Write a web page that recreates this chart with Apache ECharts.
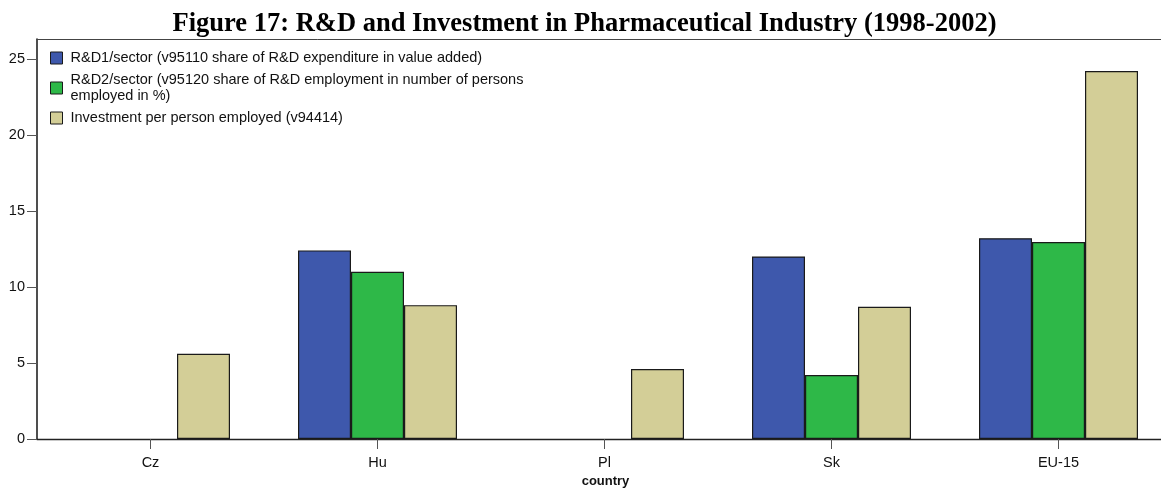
<!DOCTYPE html>
<html>
<head>
<meta charset="utf-8">
<script src="https://cdn.jsdelivr.net/npm/echarts@6/dist/echarts.min.js"></script>
<style>
  html, body { margin: 0; padding: 0; background: #ffffff; }
  #chart { width: 1161px; height: 488px; }
</style>
</head>
<body>
<div id="chart"></div>
<script>
const titleText = 'Figure 17: R&D and Investment in Pharmaceutical Industry (1998-2002)';
const categories = ['Cz', 'Hu', 'Pl', 'Sk', 'EU-15'];
const seriesNames = [
  'R&D1/sector (v95110 share of R&D expenditure in value added)',
  'R&D2/sector (v95120 share of R&D employment in number of persons employed in %)',
  'Investment per person employed (v94414)'
];
const legendLabels = [
  'R&D1/sector (v95110 share of R&D expenditure in value added)',
  'R&D2/sector (v95120 share of R&D employment in number of persons\nemployed in %)',
  'Investment per person employed (v94414)'
];
const rd1Values = [null, 12.4, null, 12.0, 13.2];
const rd2Values = [null, 11.0, null, 4.2, 12.95];
const investValues = [5.6, 8.8, 4.6, 8.7, 24.2];
const yTicks = [0, 5, 10, 15, 20, 25];
const xAxisName = 'country';

const colors = ['#3e58ac', '#2eb848', '#d3ce97'];
const valuesList = [rd1Values, rd2Values, investValues];
const catPositions = categories.map(function (c, i) { return i; });

const chart = echarts.init(document.getElementById('chart'), null, { renderer: 'canvas' });
const font = 'Liberation Sans, Arial, sans-serif';

// visible plot: x from 37 to 1161, categories 227px apart, first centre 114px from left
const xMin = -0.5;
const xMax = -0.5 + (1161 - 37) / 227;

const option = {
  animation: false,
  backgroundColor: '#ffffff',
  title: {
    text: titleText,
    left: 584.5,
    textAlign: 'center',
    top: 11,
    padding: 0,
    textStyle: {
      fontFamily: 'Liberation Serif, Times New Roman, serif',
      fontWeight: 'bold',
      fontSize: 26.5,
      color: '#000000'
    }
  },
  legend: {
    orient: 'vertical',
    left: 50,
    top: 50,
    padding: 0,
    itemGap: 6,
    itemWidth: 12,
    itemHeight: 12,
    icon: 'rect',
    selectedMode: false,
    data: seriesNames,
    formatter: function (name) {
      return legendLabels[seriesNames.indexOf(name)];
    },
    itemStyle: { borderColor: '#1a1a1a', borderWidth: 1 },
    textStyle: {
      fontFamily: font,
      fontSize: 14.5,
      lineHeight: 16,
      color: '#111111',
      padding: [0, 0, 0, 3]
    }
  },
  grid: {
    left: 37,
    top: 39,
    right: 0,
    height: 400,
    show: false,
    containLabel: false,
    outerBoundsMode: 'none'
  },
  xAxis: [{
    type: 'value',
    min: xMin,
    max: xMax,
    position: 'bottom',
    name: xAxisName,
    nameLocation: 'middle',
    nameGap: 35,
    nameTextStyle: {
      fontFamily: font,
      fontWeight: 'bold',
      fontSize: 13,
      color: '#111111',
      padding: [0, 0, 0, 13]
    },
    axisLine: { show: true, onZero: false, lineStyle: { color: '#222222', width: 1.3 } },
    axisTick: { show: true, length: 10, customValues: catPositions, lineStyle: { color: '#555555', width: 1 } },
    axisLabel: {
      margin: 16,
      customValues: catPositions,
      formatter: function (v) { return categories[Math.round(v)]; },
      fontFamily: font,
      fontSize: 14.5,
      color: '#111111'
    },
    splitLine: { show: false }
  }, {
    type: 'value',
    min: xMin,
    max: xMax,
    position: 'top',
    axisLine: { show: true, onZero: false, lineStyle: { color: '#444444', width: 1 } },
    axisTick: { show: false },
    axisLabel: { show: false },
    splitLine: { show: false }
  }],
  yAxis: {
    type: 'value',
    min: 0,
    max: 26.3,
    interval: 5,
    position: 'left',
    axisLine: { show: true, onZero: false, lineStyle: { color: '#222222', width: 1.6 } },
    axisTick: { show: true, length: 10, customValues: yTicks, lineStyle: { color: '#555555', width: 1 } },
    axisLabel: {
      margin: 12,
      customValues: yTicks,
      fontFamily: font,
      fontSize: 14.5,
      color: '#111111'
    },
    splitLine: { show: false }
  },
  series: seriesNames.map(function (name, i) {
    return {
      name: name,
      type: 'bar',
      xAxisIndex: 0,
      data: valuesList[i].map(function (v, k) { return [catPositions[k], v]; }),
      barWidth: 53,
      barGap: '0%',
      itemStyle: {
        color: colors[i],
        borderColor: '#1a1a1a',
        borderWidth: 1.2
      },
      emphasis: { disabled: true }
    };
  })
};

chart.setOption(option);
</script>
</body>
</html>
